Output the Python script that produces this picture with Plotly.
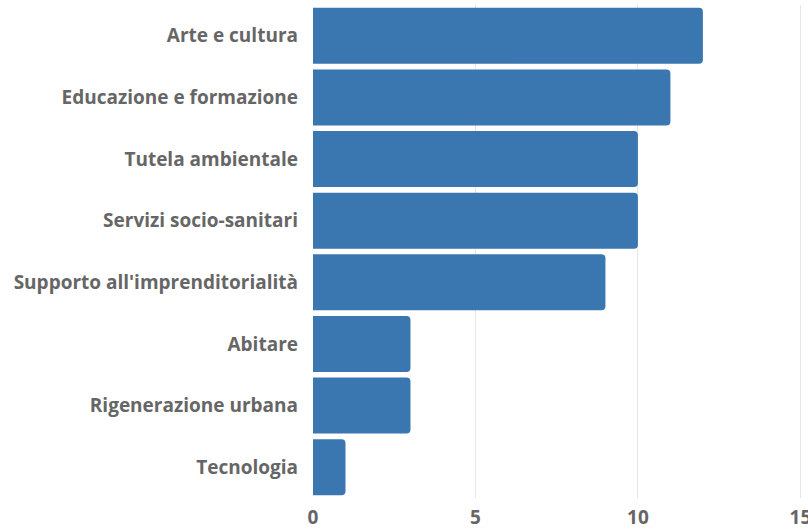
import plotly.graph_objects as go

categories = ["Arte e cultura", "Educazione e formazione", "Tutela ambientale",
              "Servizi socio-sanitari", "Supporto all'imprenditorialità", "Abitare",
              "Rigenerazione urbana", "Tecnologia"]
values = [12, 11, 10, 10, 9, 3, 3, 1]
x_ticks = [0, 5, 10, 15]

fig = go.Figure(go.Bar(
    x=values, y=categories, orientation="h",
    marker=dict(color="#3a77b1", line=dict(width=0)),
    hoverinfo="x+y",
))

font_family = "Open Sans"
fig.update_layout(
    width=808, height=529,
    margin=dict(l=313, r=6, t=5, b=31),
    paper_bgcolor="white", plot_bgcolor="white",
    bargap=0.09,
    barcornerradius=4,
    showlegend=False,
    font=dict(family=font_family, color="#666666"),
    xaxis=dict(
        range=[0, 15.05], tickvals=x_ticks, ticktext=[str(t) for t in x_ticks],
        automargin=False, ticklabeloverflow="allow",
        showgrid=True, gridcolor="#e6e6e6", gridwidth=1,
        zeroline=False, showline=False,
        tickfont=dict(family=font_family, size=19, color="#666666", weight="bold"),
        ticklabelstandoff=6,
    ),
    yaxis=dict(
        categoryorder="array", categoryarray=categories[::-1],
        automargin=False, showgrid=False, zeroline=False, showline=False,
        tickfont=dict(family=font_family, size=19, color="#666666", weight="bold"),
        ticklabelstandoff=14,
    ),
)

fig.write_html("out.html", config={"displayModeBar": False},
               post_script="document.body.style.margin='0';")
